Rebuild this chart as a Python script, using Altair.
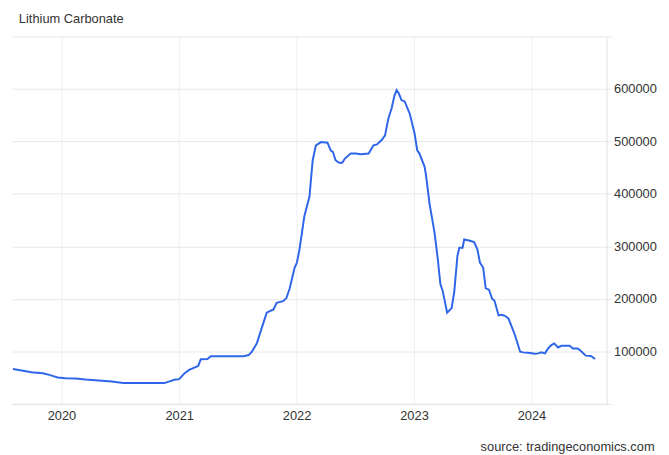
import altair as alt
import pandas as pd

dates = [
    "2019-08-03", "2019-09-08", "2019-09-29", "2019-11-04", "2019-11-24", "2019-12-20",
    "2020-01-14", "2020-02-14", "2020-03-16", "2020-04-25", "2020-06-05", "2020-07-11",
    "2020-08-26", "2020-11-16", "2020-12-02", "2020-12-17", "2021-01-01", "2021-01-17",
    "2021-02-01", "2021-02-17", "2021-03-01", "2021-03-09", "2021-03-30", "2021-04-09",
    "2021-05-09", "2021-07-20", "2021-08-05", "2021-08-15", "2021-08-30", "2021-09-14",
    "2021-09-30", "2021-10-10", "2021-10-21", "2021-10-31", "2021-11-20", "2021-11-30",
    "2021-12-10", "2021-12-26", "2022-01-02", "2022-01-10", "2022-01-25", "2022-02-10",
    "2022-02-20", "2022-03-02", "2022-03-18", "2022-04-07", "2022-04-17", "2022-04-24",
    "2022-05-02", "2022-05-13", "2022-05-23", "2022-05-31", "2022-06-18", "2022-07-03",
    "2022-07-19", "2022-08-13", "2022-08-28", "2022-09-08", "2022-09-23", "2022-10-03",
    "2022-10-13", "2022-10-24", "2022-11-01", "2022-11-08", "2022-11-15", "2022-11-23",
    "2022-12-03", "2022-12-19", "2023-01-03", "2023-01-11", "2023-01-18", "2023-02-03",
    "2023-02-08", "2023-02-18", "2023-03-06", "2023-03-16", "2023-03-24", "2023-03-31",
    "2023-04-14", "2023-04-28", "2023-05-06", "2023-05-16", "2023-05-22", "2023-06-01",
    "2023-06-06", "2023-06-21", "2023-07-07", "2023-07-17", "2023-07-25", "2023-08-04",
    "2023-08-12", "2023-08-22", "2023-09-01", "2023-09-08", "2023-09-21", "2023-10-01",
    "2023-10-12", "2023-10-22", "2023-11-01", "2023-11-11", "2023-11-27", "2023-12-07",
    "2023-12-28", "2024-01-12", "2024-01-22", "2024-02-01", "2024-02-12", "2024-02-22",
    "2024-03-03", "2024-03-12", "2024-03-17", "2024-03-24", "2024-04-03", "2024-04-29",
    "2024-05-09", "2024-05-24", "2024-06-03", "2024-06-18", "2024-07-04", "2024-07-17",
]

prices = [
    66600, 62800, 60400, 58500, 55300, 50300,
    49000, 48400, 46500, 44700, 42800, 39600,
    39600, 39600, 42800, 45900, 47200, 58000,
    64700, 69200, 72300, 84900, 85500, 90600,
    90600, 90600, 93000, 99400, 115000, 143400,
    173600, 176800, 180000, 192500, 195600, 201300,
    218900, 259800, 269200, 294300, 357200, 394900,
    464200, 492500, 498700, 497500, 483000, 479800,
    464200, 459100, 459100, 467300, 476800, 476800,
    475500, 476800, 492500, 494300, 503100, 511300,
    542800, 564700, 586800, 597500, 591100, 578700,
    576100, 552300, 514500, 483000, 476800, 451500,
    432700, 382500, 325800, 275500, 228300, 215700,
    173600, 182400, 212600, 281700, 297500, 297500,
    313200, 311300, 308100, 294300, 269200, 259800,
    220000, 217600, 200000, 196800, 168500, 169800,
    167400, 162300, 146600, 130800, 99400, 98100,
    96800, 95700, 96200, 98100, 96200, 105700,
    111900, 115100, 111900, 107500, 110700, 110700,
    105700, 105700, 100600, 91900, 91100, 85500,
]

year_ticks = [2020, 2021, 2022, 2023, 2024]
y_ticks = [0, 100000, 200000, 300000, 400000, 500000, 600000, 700000]

df = pd.DataFrame({"date": dates, "price": prices})

FONT = "Liberation Sans"

chart = (
    alt.Chart(df)
    .mark_line(color="#2f66e9", strokeWidth=2)
    .encode(
        x=alt.X(
            "date:T",
            scale=alt.Scale(
                type="utc",
                domain=[
                    alt.DateTime(year=2019, month=7, date=31, utc=True),
                    alt.DateTime(year=2024, month=8, date=22, utc=True),
                ],
            ),
            axis=alt.Axis(
                values=[alt.DateTime(year=y, month=1, date=1, utc=True) for y in year_ticks],
                format="%Y",
                formatType="utc",
                grid=True,
                gridColor="#edf0f5",
                domain=True,
                domainColor="#e3e3e3",
                ticks=False,
                tickSize=0,
                labelPadding=6,
                labelFontSize=13,
                labelColor="#333333",
                labelFont=FONT,
                title="source: tradingeconomics.com",
                titleFont=FONT,
                titleFontSize=13,
                titleFontWeight="normal",
                titleColor="#333333",
                titleAnchor="end",
                titleAlign="right",
                titleBaseline="alphabetic",
                titleX=650,
                titleY=47,
            ),
        ),
        y=alt.Y(
            "price:Q",
            scale=alt.Scale(domain=[0, 700000], nice=False),
            axis=alt.Axis(
                orient="right",
                values=y_ticks,
                format="d",
                labelExpr="datum.value == 0 || datum.value >= 700000 ? '' : datum.label",
                grid=True,
                gridColor="#e8e8e8",
                domain=True,
                domainColor="#e3e3e3",
                tickColor="#e8e8e8",
                tickSize=5,
                labelPadding=2,
                labelFontSize=13,
                labelColor="#333333",
                labelFont=FONT,
                title=None,
            ),
        ),
    )
    .properties(
        width=602,
        height=372,
        title=alt.TitleParams(
            "Lithium Carbonate",
            anchor="start",
            frame="group",
            font=FONT,
            fontSize=13,
            fontWeight="normal",
            color="#333333",
            offset=10,
            dx=7,
        ),
        autosize=alt.AutoSizeParams(type="none"),
        padding={"left": 4, "top": 26, "right": 55, "bottom": 49},
    )
    .configure_view(stroke=None)
)

chart.save("out.html", embed_options={"renderer": "svg", "actions": False})
